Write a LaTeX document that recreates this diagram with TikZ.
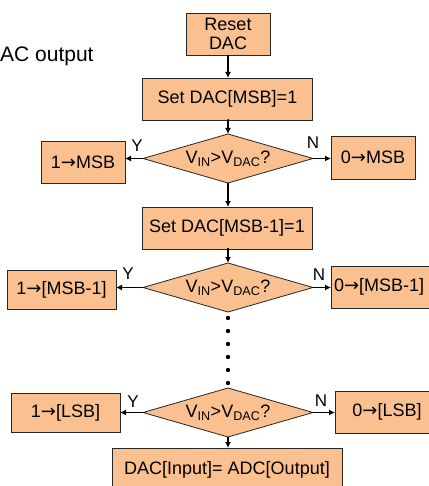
\documentclass[tikz,border=0pt]{standalone}
\usepackage{fontspec}
\setmainfont{Liberation Sans}
\newfontfamily\arrowfont{DejaVu Sans}
\newcommand{\rarr}{{\arrowfont →}}
\usetikzlibrary{shapes.geometric,arrows.meta}
\definecolor{boxfill}{RGB}{250,192,144}
\begin{document}
\begin{tikzpicture}[x=1pt,y=-1pt,
  box/.style={draw=black!85, line width=0.8pt, fill=boxfill, inner sep=0pt, outer sep=0pt, font=\fontsize{18}{19}\selectfont, align=center},
  dia/.style={diamond, draw=black!85, line width=0.8pt, fill=boxfill, inner sep=0pt, outer sep=0pt, aspect=3.47, minimum width=170pt, minimum height=49pt, font=\fontsize{18}{19}\selectfont},
  arr/.style={line width=1.5pt, -{Latex[length=6pt,width=6pt]}},
  lab/.style={font=\fontsize{17}{17}\selectfont, inner sep=0pt},
  dot/.style={fill=black, draw=none}]
\useasboundingbox (0,0) rectangle (428,486);

\node[anchor=base west, inner sep=0pt, font=\fontsize{21}{21}\selectfont] (title) at (0,62) {AC output};

\node[box, minimum width=84pt, minimum height=42pt] (reset) at (228,34) {Reset\\DAC};
\node[box, minimum width=170pt, minimum height=42pt] (set1) at (227.5,99) {Set DAC[MSB]=1};
\node[dia] (d1) at (228,158.5) {V\textsubscript{IN}>V\textsubscript{DAC}?};
\node[box, minimum width=84pt, minimum height=42pt] (l1) at (83,162) {1\rarr MSB};
\node[box, minimum width=84pt, minimum height=43pt] (r1) at (373,157.5) {0\rarr MSB};

\node[box, minimum width=170pt, minimum height=42pt] (set2) at (227,228) {Set DAC[MSB-1]=1};
\node[dia] (d2) at (228,287.5) {V\textsubscript{IN}>V\textsubscript{DAC}?};
\node[box, minimum width=109pt, minimum height=39pt] (l2) at (61.5,289.5) {1\rarr[MSB-1]};
\node[box, minimum width=105pt, minimum height=42pt, text width=99pt, align=left] (r2) at (383.5,287) {0\rarr[MSB-1]};

\node[dia] (d3) at (228,412.5) {V\textsubscript{IN}>V\textsubscript{DAC}?};
\node[box, minimum width=109pt, minimum height=39pt] (l3) at (65.5,412.5) {1\rarr[LSB]};
\node[box, minimum width=104pt, minimum height=42pt] (r3) at (387,412) {0\rarr[LSB]};

\node[box, minimum width=230pt, minimum height=44pt] (fin) at (227,470) {DAC[Input]= ADC[Output]};

\draw[arr] (reset.south) -- (reset.south |- set1.north);
\draw[arr] (set1.south) -- (set1.south -| d1.north) -- (d1.north);
\draw[arr] (d1.south) -- (d1.south |- set2.north);
\draw[arr] (set2.south) -- (set2.south -| d2.north) -- (d2.north);
\draw[arr] (d3.south) -- (d3.south |- fin.north);

\draw[arr] (d1.west) -- (d1.west -| l1.east);
\draw[arr] (d1.east) -- (d1.east -| r1.west);
\draw[arr] (d2.west) -- (d2.west -| l2.east);
\draw[arr] (d2.east) -- (d2.east -| r2.west);
\draw[arr] (d3.west) -- (d3.west -| l3.east);
\draw[arr] (d3.east) -- (d3.east -| r3.west);

\node[lab] (y1) at (137,146) {Y};
\node[lab] (n1) at (313,143) {N};
\node[lab] (y2) at (128,274) {Y};
\node[lab] (n2) at (319,275) {N};
\node[lab] (y3) at (133,402) {Y};
\node[lab] (n3) at (321,401) {N};

\foreach \yy in {318,331,344,357,370,383} \fill[dot] (228,\yy) circle (2.2pt);
\end{tikzpicture}
\end{document}
